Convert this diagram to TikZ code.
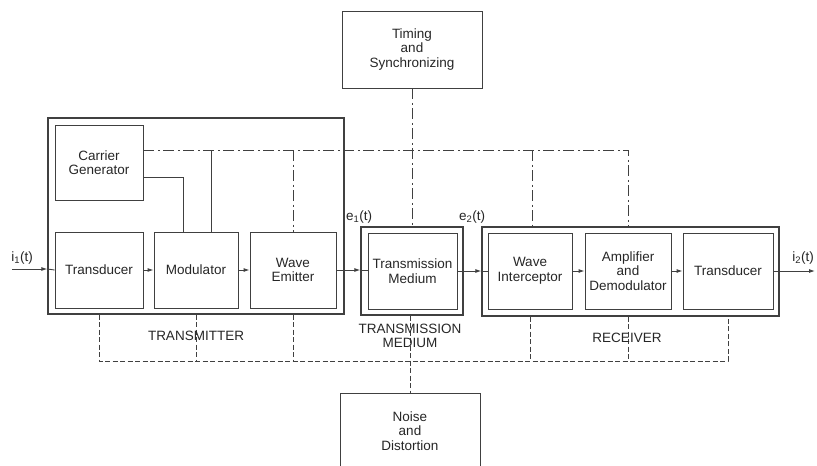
\documentclass[tikz,border=0pt]{standalone}
\usepackage{fontspec}
\setmainfont{Liberation Sans}
\usetikzlibrary{arrows.meta}

\begin{document}
\begin{tikzpicture}[
        x=1pt, y=-1pt,
        >={Latex[length=6pt,width=4pt]},
        font=\fontsize{13.5}{14.5}\selectfont,
        line width=0.9pt, draw=black!75, text=black!85,
        blk/.style={draw, align=center, inner sep=1pt, minimum height=76pt},
        outer/.style={draw, line width=1.3pt, inner sep=0pt},
        dashdot/.style={dash pattern=on 11pt off 3.5pt on 2pt off 3.5pt},
        bus/.style={dashed, dash pattern=on 5pt off 2.5pt}
    ]
        \useasboundingbox (0,0) rectangle (817,466);
        \clip (0,0) rectangle (817,466);
        % transmitter
        \node[outer, minimum width=296pt, minimum height=196pt] (txbox) at (196,216) {};
        \node[blk, minimum width=88pt, minimum height=75pt] (cg) at (99,162.5) {Carrier\\Generator};
        \node[blk, minimum width=88pt] (tdA) at (99,270) {Transducer};
        \node[blk, minimum width=84pt] (mod) at (196,270) {Modulator};
        \node[blk, minimum width=86pt] (we) at (293,270) {Wave\\Emitter};
        % transmission medium
        \node[outer, minimum width=102pt, minimum height=88pt] (tmbox) at (412,271) {};
        \node[blk, minimum width=89pt] (tm) at (412.5,271) {Transmission\\Medium};
        % receiver
        \node[outer, minimum width=297pt, minimum height=89pt] (rxbox) at (630.5,271.5) {};
        \node[blk, minimum width=84pt] (wi) at (530,271) {Wave\\Interceptor};
        \node[blk, minimum width=86pt] (ad) at (628,271) {Amplifier\\and\\Demodulator};
        \node[blk, minimum width=90pt] (tdB) at (728,271) {Transducer};
        % outside blocks
        \node[blk, minimum width=140pt, minimum height=77pt] (timing) at (412,49.5) {Timing\\and\\Synchronizing};
        \node[blk, minimum width=140pt, minimum height=76pt] (noise) at (410,431) {Noise\\and\\Distortion};
        % signals
        \coordinate (in) at (12,269);
        \coordinate (out) at (815,271);
        \node at (22,258) {i\textsubscript{1}(t)};
        \node at (803,258) {i\textsubscript{2}(t)};
        \node at (359,217) {e\textsubscript{1}(t)};
        \node at (472,217) {e\textsubscript{2}(t)};
        \draw[->] (in) -- (txbox.west |- in);
        \draw (txbox.west |- in) -- (tdA.west);
        \draw[->] (tdA.east) -- (mod.west);
        \draw[->] (mod.east) -- (we.west);
        \draw[->] (we.east) -- (tmbox.west |- we.east);
        \draw (tmbox.west |- we.east) -- (tm.west |- we.east);
        \draw[->] (tm.east) -- (rxbox.west |- tm.east);
        \draw (rxbox.west |- tm.east) -- (wi.west);
        \draw[->] (wi.east) -- (ad.west);
        \draw[->] (ad.east) -- (tdB.west);
        \draw (tdB.east) -- (rxbox.east |- tdB.east);
        \draw[->] (rxbox.east |- tdB.east) -- (out);
        % carrier and timing lines
        \path (cg.east) ++(0,-12.5) coordinate (cgA);
        \path (cg.east) ++(0,14.5) coordinate (cgB);
        \draw[dashdot] (cgA) -- (ad.north |- cgA) -- (ad.north |- rxbox.north);
        \draw (cgB) -- (183,177) -- (mod.north -| 183,0);
        \draw (211,150) -- (mod.north -| 211,0);
        \draw[dashdot] (we.north |- cgA) -- (we.north);
        \draw[dashdot] (timing.south) -- (tmbox.north);
        \draw[dashdot] (532,150) -- (rxbox.north -| 532,0);
        % noise and distortion bus
        \coordinate (bus) at (0,361);
        \draw[bus] (tdA |- txbox.south) -- (tdA |- bus) -- (tdB |- bus) -- (tdB |- rxbox.south);
        \draw[bus] (mod |- txbox.south) -- (mod |- bus);
        \draw[bus] (we |- txbox.south) -- (we |- bus);
        \draw[bus] (wi |- rxbox.south) -- (wi |- bus);
        \draw[bus] (ad |- rxbox.south) -- (ad |- bus);
        \draw[bus] (tmbox.south -| noise.north) -- (noise.north);
        % group labels
        \node at (196,336) {TRANSMITTER};
        \node[align=center, font=\fontsize{13.5}{14}\selectfont] at (410,336) {TRANSMISSION\\MEDIUM};
        \node at (627,338) {RECEIVER};
    \end{tikzpicture}
\end{document}
